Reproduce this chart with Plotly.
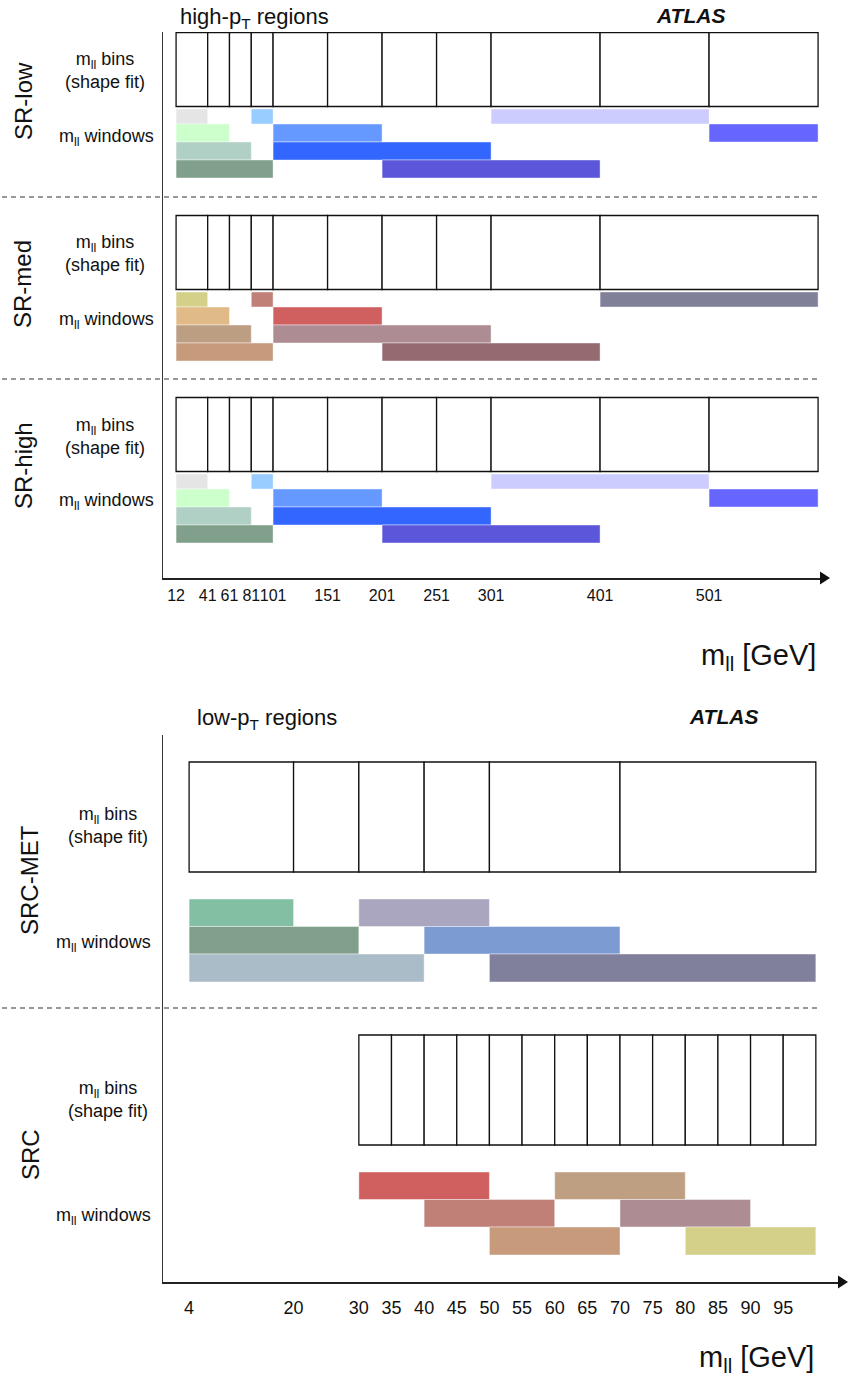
import plotly.graph_objects as go

W, H = 848, 1380

# ---------------- data ----------------
# high-pT regions (GeV)
hi_ticks = [12, 41, 61, 81, 101, 151, 201, 251, 301, 401, 501]
srlow_bins = [12, 41, 61, 81, 101, 151, 201, 251, 301, 401, 501, 601]
srmed_bins = [12, 41, 61, 81, 101, 151, 201, 251, 301, 401, 601]
srhigh_bins = [12, 41, 61, 81, 101, 151, 201, 251, 301, 401, 501, 601]

srlow_win_lo = [12, 81, 301, 12, 101, 501, 12, 101, 12, 201]
srlow_win_hi = [41, 101, 501, 61, 201, 601, 81, 301, 101, 401]
srlow_win_row = [0, 0, 0, 1, 1, 1, 2, 2, 3, 3]

srmed_win_lo = [12, 81, 401, 12, 101, 12, 101, 12, 201]
srmed_win_hi = [41, 101, 601, 61, 201, 81, 301, 101, 401]
srmed_win_row = [0, 0, 0, 1, 1, 2, 2, 3, 3]

srhigh_win_lo = srlow_win_lo
srhigh_win_hi = srlow_win_hi
srhigh_win_row = srlow_win_row

# low-pT regions (GeV)
lo_ticks = [4, 20, 30, 35, 40, 45, 50, 55, 60, 65, 70, 75, 80, 85, 90, 95]
srcmet_bins = [4, 20, 30, 40, 50, 70, 100]
src_bins = [30, 35, 40, 45, 50, 55, 60, 65, 70, 75, 80, 85, 90, 95, 100]

srcmet_win_lo = [4, 30, 4, 40, 4, 50]
srcmet_win_hi = [20, 50, 30, 70, 40, 100]
srcmet_win_row = [0, 0, 1, 1, 2, 2]

src_win_lo = [30, 60, 40, 70, 50, 80]
src_win_hi = [50, 80, 60, 90, 70, 100]
src_win_row = [0, 0, 1, 1, 2, 2]

# ---------------- styles ----------------
srlow_colors = ["#e5e5e5", "#99ccff", "#ccccff", "#ccffcc", "#6699ff", "#6666ff",
                "#b0d0c5", "#3366ff", "#80a08b", "#5b56da"]
srmed_colors = ["#d4d08a", "#c08078", "#808099", "#e0bb88", "#d06060",
                "#bc9e82", "#ad8d93", "#c89a7c", "#956a70"]
srhigh_colors = srlow_colors
srcmet_colors = ["#83c0a3", "#aaa6c0", "#80a08b", "#7b9bd2", "#aabcc8", "#80809c"]
src_colors = ["#d06060", "#bf9f82", "#c08078", "#ad8d93", "#c89a7c", "#d4d08a"]

FONT = "Liberation Sans, Arial, Helvetica, sans-serif"

fig = go.Figure()


def add_bins(edges, top, bot, xa, ya):
    lo = edges[:-1]
    hi = edges[1:]
    fig.add_trace(go.Bar(
        orientation="h", base=lo, x=[b - a for a, b in zip(lo, hi)],
        y=[(top + bot) / 2] * len(lo), width=[bot - top] * len(lo),
        marker=dict(color="white", line=dict(color="#111111", width=1.3)),
        xaxis=xa, yaxis=ya, hoverinfo="skip", showlegend=False))


def add_windows(lo, hi, rows, colors, row_edges, xa, ya):
    yc = [(row_edges[r] + row_edges[r + 1]) / 2 for r in rows]
    hh = [row_edges[r + 1] - row_edges[r] for r in rows]
    fig.add_trace(go.Bar(
        orientation="h", base=lo, x=[b - a for a, b in zip(lo, hi)],
        y=yc, width=hh,
        marker=dict(color=colors, line=dict(color="rgba(255,255,255,0.7)", width=0.6)),
        xaxis=xa, yaxis=ya, hoverinfo="skip", showlegend=False))


# ---- top panel (y in pixel-like units) ----
offsets = [0, 183, 365]
hi_sets = [
    (srlow_bins, srlow_win_lo, srlow_win_hi, srlow_win_row, srlow_colors),
    (srmed_bins, srmed_win_lo, srmed_win_hi, srmed_win_row, srmed_colors),
    (srhigh_bins, srhigh_win_lo, srhigh_win_hi, srhigh_win_row, srhigh_colors),
]
for off, (bins, wlo, whi, wrow, wcol) in zip(offsets, hi_sets):
    add_bins(bins, 32.5 + off, 106.5 + off, "x", "y")
    rows = [109 + off, 124 + off, 142 + off, 160 + off, 178 + off]
    add_windows(wlo, whi, wrow, wcol, rows, "x", "y")

# ---- bottom panel ----
add_bins(srcmet_bins, 762, 872, "x2", "y2")
add_windows(srcmet_win_lo, srcmet_win_hi, srcmet_win_row, srcmet_colors,
            [899, 926.5, 954, 982], "x2", "y2")
add_bins(src_bins, 1035, 1145, "x2", "y2")
add_windows(src_win_lo, src_win_hi, src_win_row, src_colors,
            [1172, 1199.5, 1227, 1255], "x2", "y2")


def px(v):
    return v / W


def py(v):
    return 1 - v / H


axis_common = dict(showgrid=False, zeroline=False, ticks="", showline=True,
                   mirror=False, fixedrange=True)

fig.update_layout(
    width=W, height=H, margin=dict(l=0, r=0, t=0, b=0),
    paper_bgcolor="white", plot_bgcolor="white",
    barmode="overlay", showlegend=False,
    font=dict(family=FONT, color="#111111"),
    xaxis=dict(domain=[px(163), px(822)], range=[0, 604.6], anchor="y",
               tickvals=hi_ticks, ticktext=[str(t) for t in hi_ticks], tickangle=0,
               tickfont=dict(size=16, family=FONT, color="#111111"),
               linecolor="#222222", linewidth=2, ticklabelstandoff=2, **axis_common),
    yaxis=dict(domain=[py(578), py(32)], range=[578, 32], anchor="x",
               showticklabels=False, linecolor="#333333", linewidth=1, **axis_common),
    xaxis2=dict(domain=[px(163), px(840)], range=[0, 103.7], anchor="y2",
                tickvals=lo_ticks, ticktext=[str(t) for t in lo_ticks], tickangle=0,
                tickfont=dict(size=18, family=FONT, color="#111111"),
                linecolor="#222222", linewidth=2, ticklabelstandoff=8, **axis_common),
    yaxis2=dict(domain=[py(1282), py(735)], range=[1282, 735], anchor="x2",
                showticklabels=False, linecolor="#333333", linewidth=1, **axis_common),
)

shapes = []
# arrow heads
for (xt, yy) in [(830, 578), (848, 1282)]:
    shapes.append(dict(type="path", xref="paper", yref="paper",
                       path=f"M {px(xt - 10)},{py(yy - 6.5)} L {px(xt)},{py(yy)} L {px(xt - 10)},{py(yy + 6.5)} Z",
                       fillcolor="#111111", line=dict(width=0)))
# dashed separators
for yy in [197, 379, 1008]:
    shapes.append(dict(type="line", xref="paper", yref="paper",
                       x0=px(2), x1=px(818), y0=py(yy), y1=py(yy),
                       line=dict(color="#777777", width=1.4, dash="5px,4px")))
fig.update_layout(shapes=shapes)

annotations = []


def ann(text, x, y, size, xanchor="center", yanchor="middle", angle=0):
    annotations.append(dict(text=text, x=px(x), y=py(y), xref="paper", yref="paper",
                            showarrow=False, xanchor=xanchor, yanchor=yanchor,
                            textangle=angle, align="center",
                            font=dict(size=size, family=FONT, color="#111111")))


MLL = "m<sub>ll</sub>"
# top
ann("high-p<sub>T</sub> regions", 178, 18, 22, xanchor="left")
ann("<b><i>ATLAS</i></b>", 690, 15, 21)
for off, name in zip(offsets, ["SR-low", "SR-med", "SR-high"]):
    ann(name, 23, 101 + off, 24, angle=-90)
    ann(MLL + " bins<br>(shape fit)", 105, 71 + off, 18)
    ann(MLL + " windows", 106, 137 + off, 18)
ann(MLL + " [GeV]", 818, 657, 29, xanchor="right")

# bottom
ann("low-p<sub>T</sub> regions", 195, 719, 22, xanchor="left")
ann("<b><i>ATLAS</i></b>", 723, 716, 21)
ann("SRC-MET", 30, 880, 24, angle=-90)
ann(MLL + " bins<br>(shape fit)", 108, 826, 18)
ann(MLL + " windows", 103, 943, 18)
ann("SRC", 30, 1155, 24, angle=-90)
ann(MLL + " bins<br>(shape fit)", 108, 1099, 18)
ann(MLL + " windows", 103, 1216, 18)
ann(MLL + " [GeV]", 816, 1359, 29, xanchor="right")

fig.update_layout(annotations=annotations)

fig.write_html("out.html", config={"displayModeBar": False},
               post_script="document.body.style.margin='0';document.body.style.overflow='hidden';")
